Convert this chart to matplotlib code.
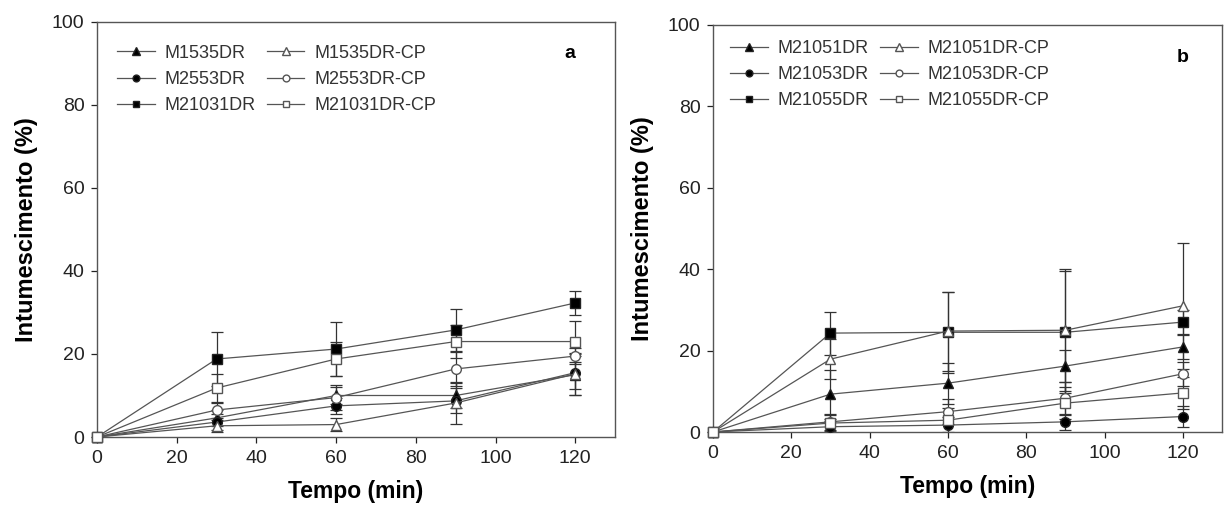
import matplotlib
matplotlib.use("Agg")
import matplotlib.pyplot as plt

plt.rcParams['font.family'] = ['Liberation Sans', 'DejaVu Sans']

# Time points (min)
tempo = [0, 30, 60, 90, 120]

# Panel a: swelling (%) and standard deviations
labels_a = ["M1535DR", "M2553DR", "M21031DR", "M1535DR-CP", "M2553DR-CP", "M21031DR-CP"]
m1535dr = [0, 4.6, 10.0, 10.0, 15.0]
m2553dr = [0, 3.6, 7.5, 8.7, 15.5]
m21031dr = [0, 18.8, 21.2, 25.8, 32.3]
m1535dr_cp = [0, 2.7, 3.0, 8.2, 15.2]
m2553dr_cp = [0, 6.5, 9.5, 16.4, 19.5]
m21031dr_cp = [0, 11.8, 18.8, 23.0, 23.0]

sd_m1535dr = [0, 2.0, 2.0, 3.0, 5.0]
sd_m2553dr = [0, 2.0, 2.0, 3.0, 4.0]
sd_m21031dr = [0, 6.5, 6.5, 5.0, 3.0]
sd_m1535dr_cp = [0, 1.5, 1.5, 5.0, 5.0]
sd_m2553dr_cp = [0, 2.0, 3.0, 4.0, 2.0]
sd_m21031dr_cp = [0, 3.5, 4.0, 4.0, 5.0]

# Panel b: swelling (%) and standard deviations
labels_b = ["M21051DR", "M21053DR", "M21055DR", "M21051DR-CP", "M21053DR-CP", "M21055DR-CP"]
m21051dr = [0, 9.3, 12.0, 16.2, 20.9]
m21053dr = [0, 1.3, 1.7, 2.5, 3.8]
m21055dr = [0, 24.3, 24.5, 24.5, 27.0]
m21051dr_cp = [0, 17.9, 24.8, 25.0, 31.0]
m21053dr_cp = [0, 2.5, 5.0, 8.3, 14.3]
m21055dr_cp = [0, 2.2, 2.9, 7.1, 9.6]

sd_m21051dr = [0, 6.0, 5.0, 4.0, 3.0]
sd_m21053dr = [0, 1.5, 2.0, 2.0, 2.5]
sd_m21055dr = [0, 5.3, 10.0, 15.0, 3.0]
sd_m21051dr_cp = [0, 5.0, 9.7, 15.0, 15.4]
sd_m21053dr_cp = [0, 2.0, 3.0, 4.0, 3.0]
sd_m21055dr_cp = [0, 2.0, 3.0, 4.0, 4.0]

series_a = [m1535dr, m2553dr, m21031dr, m1535dr_cp, m2553dr_cp, m21031dr_cp]
errs_a = [sd_m1535dr, sd_m2553dr, sd_m21031dr, sd_m1535dr_cp, sd_m2553dr_cp, sd_m21031dr_cp]
series_b = [m21051dr, m21053dr, m21055dr, m21051dr_cp, m21053dr_cp, m21055dr_cp]
errs_b = [sd_m21051dr, sd_m21053dr, sd_m21055dr, sd_m21051dr_cp, sd_m21053dr_cp, sd_m21055dr_cp]

markers = ["^", "o", "s", "^", "o", "s"]
filled = [True, True, True, False, False, False]

LINE = "#555555"
EDGE = "#222222"

fig = plt.figure(figsize=(12.27, 5.26), dpi=100)
ax_a = fig.add_axes([0.0791, 0.1692, 0.4222, 0.789])
ax_b = fig.add_axes([0.5811, 0.1787, 0.4148, 0.7738])


def draw(ax, series, errs, labels, tag, leg_anchor):
    handles = []
    for y, e, lab, mk, fl in zip(series, errs, labels, markers, filled):
        ax.errorbar(tempo, y, yerr=e, fmt="none", ecolor="#333333",
                    elinewidth=0.9, capsize=4, capthick=0.9, zorder=2)
        h, = ax.plot(tempo, y, color=LINE, lw=0.9, marker=mk,
                     markersize=7 if mk != "^" else 7.5,
                     markerfacecolor="black" if fl else "white",
                     markeredgecolor=EDGE if fl else "#555555",
                     markeredgewidth=1.0, label=lab, zorder=3, clip_on=False)
        handles.append(h)
    ax.set_xlim(0, 130)
    ax.set_ylim(0, 100)
    ax.set_xticks([0, 20, 40, 60, 80, 100, 120])
    ax.set_yticks([0, 20, 40, 60, 80, 100])
    ax.tick_params(direction="out", length=4, width=0.9, labelsize=14,
                   colors="#222222", pad=5)
    for sp in ax.spines.values():
        sp.set_color("#555555")
        sp.set_linewidth(1.0)
    ax.set_xlabel("Tempo (min)", fontsize=16.5, fontweight="bold", labelpad=10)
    ax.set_ylabel("Intumescimento (%)", fontsize=17, fontweight="bold", labelpad=10)
    ax.text(tag[1], tag[2], tag[0], fontsize=14, fontweight="bold",
            ha="center", va="center")
    leg = ax.legend(handles=handles, ncol=2, loc="upper left",
                    bbox_to_anchor=leg_anchor, frameon=False, fontsize=13,
                    handlelength=2.1, handletextpad=0.55, columnspacing=0.6,
                    labelspacing=0.5, borderpad=0, borderaxespad=0,
                    markerscale=0.7)
    for t in leg.get_texts():
        t.set_color("#333333")


draw(ax_a, series_a, errs_a, labels_a, ("a", 118.6, 92.5), (0.038, 0.945))
draw(ax_b, series_b, errs_b, labels_b, ("b", 120, 92), (0.033, 0.963))

fig.savefig("out.png", dpi=100)
